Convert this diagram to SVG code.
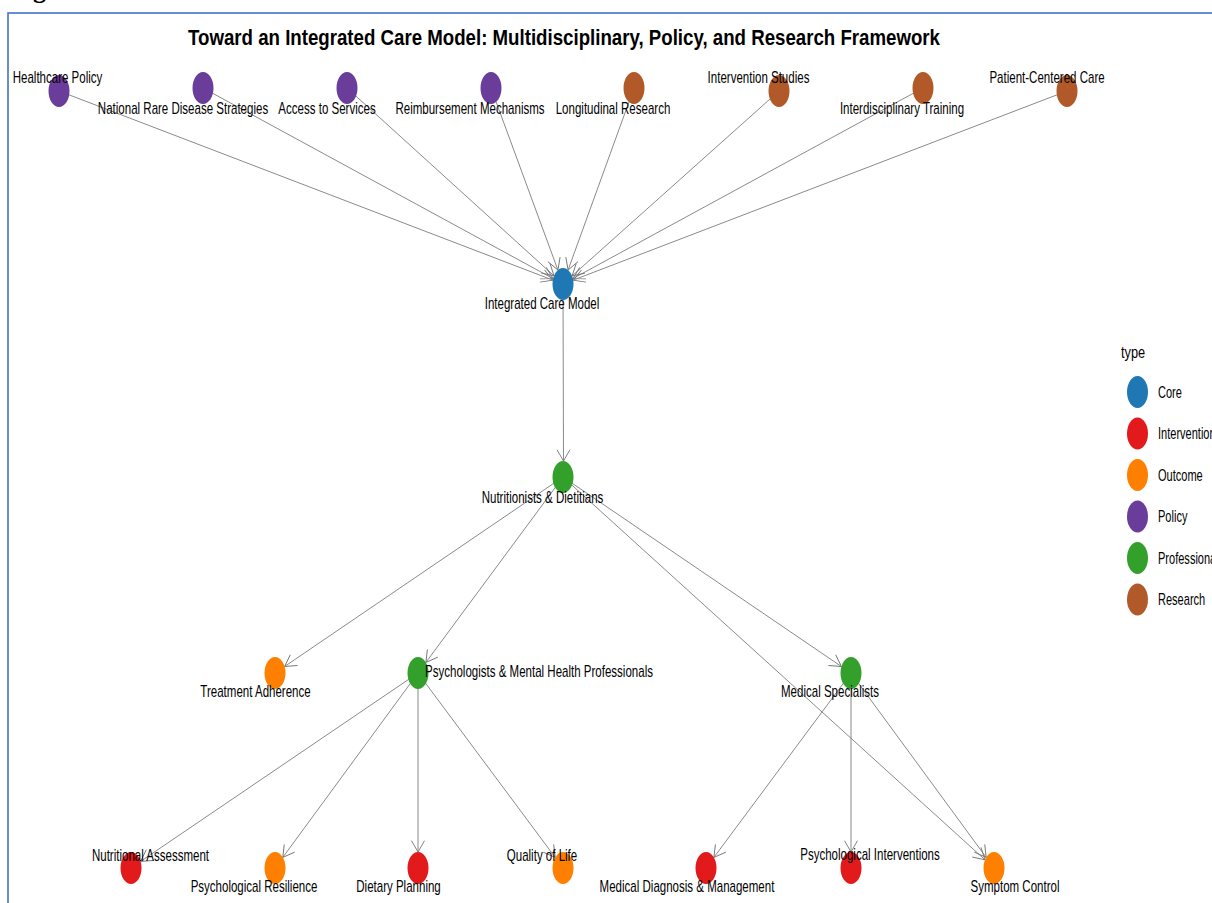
<svg xmlns="http://www.w3.org/2000/svg" width="1212" height="903" viewBox="0 0 1212 903">
<style>
.bg{fill:#ffffff}
.frame{fill:none;stroke:#4472C4;stroke-width:1.6}
.edge{stroke:#757575;stroke-width:0.85;fill:none;marker-end:url(#arr)}
.lbl{font-family:"Liberation Sans",Arial,sans-serif;font-size:16px;fill:#000;text-anchor:middle}
.leg{font-family:"Liberation Sans",Arial,sans-serif;font-size:16px;fill:#000}
.title{font-family:"Liberation Sans",Arial,sans-serif;font-size:22px;font-weight:bold;fill:#000;text-anchor:middle}
.core{fill:#1F78B4}.int{fill:#E31A1C}.out{fill:#FF7F00}.pol{fill:#6A3D9A}.pro{fill:#33A02C}.res{fill:#B15928}
</style>
<defs>
<marker id="arr" viewBox="0 -7 12 14" refX="11.3" refY="0" markerWidth="12" markerHeight="14" markerUnits="userSpaceOnUse" orient="auto" overflow="visible">
<path d="M0,-6.5 L11.3,0 L0,6.5" fill="none" stroke="#757575" stroke-width="0.9"/>
</marker>
</defs>
<rect class="bg" x="0" y="0" width="1212" height="903"/>
<text x="33" y="-2.5" font-family="'Liberation Serif',serif" font-size="26" font-weight="bold" fill="#000">g</text>
<rect class="frame" x="8" y="13" width="1230" height="910"/>
<text class="title" x="564" y="44.5" textLength="752" lengthAdjust="spacingAndGlyphs">Toward an Integrated Care Model: Multidisciplinary, Policy, and Research Framework</text>
<g id="connectors">
<line class="edge" x1="59" y1="91" x2="552.8" y2="280.1"/>
<line class="edge" x1="203" y1="88" x2="553.1" y2="278.6"/>
<line class="edge" x1="347" y1="88" x2="554.0" y2="275.8"/>
<line class="edge" x1="491" y1="88" x2="557.9" y2="270.0"/>
<line class="edge" x1="634" y1="88" x2="568.1" y2="270.0"/>
<line class="edge" x1="779" y1="91" x2="572.1" y2="275.9"/>
<line class="edge" x1="923" y1="88" x2="572.9" y2="278.6"/>
<line class="edge" x1="1067" y1="91" x2="573.2" y2="280.1"/>
<line class="edge" x1="563" y1="284" x2="563.5" y2="461"/>
<line class="edge" x1="563" y1="477" x2="284.6" y2="666.5"/>
<line class="edge" x1="563" y1="477" x2="425.9" y2="662.4"/>
<line class="edge" x1="563" y1="477" x2="841.4" y2="666.5"/>
<line class="edge" x1="563" y1="477" x2="985.0" y2="859.8"/>
<line class="edge" x1="418" y1="673" x2="140.6" y2="861.4"/>
<line class="edge" x1="418" y1="673" x2="282.8" y2="857.4"/>
<line class="edge" x1="418" y1="673" x2="418" y2="852"/>
<line class="edge" x1="418" y1="673" x2="555.2" y2="857.4"/>
<line class="edge" x1="851" y1="673" x2="713.9" y2="857.4"/>
<line class="edge" x1="851" y1="673" x2="851" y2="852"/>
<line class="edge" x1="851" y1="673" x2="986.2" y2="857.4"/>
</g>
<g id="n-healthcare-policy"><ellipse class="pol" cx="59" cy="91" rx="10.5" ry="16"/><text class="lbl" transform="translate(57.5,82.5) scale(0.72,1)">Healthcare Policy</text></g>
<g id="n-national-rare-disease-strategies"><ellipse class="pol" cx="203" cy="88" rx="10.5" ry="16"/><text class="lbl" transform="translate(183,113.5) scale(0.72,1)">National Rare Disease Strategies</text></g>
<g id="n-access-to-services"><ellipse class="pol" cx="347" cy="88" rx="10.5" ry="16"/><text class="lbl" transform="translate(327,113.5) scale(0.72,1)">Access to Services</text></g>
<g id="n-reimbursement-mechanisms"><ellipse class="pol" cx="491" cy="88" rx="10.5" ry="16"/><text class="lbl" transform="translate(470,113.5) scale(0.72,1)">Reimbursement Mechanisms</text></g>
<g id="n-longitudinal-research"><ellipse class="res" cx="634" cy="88" rx="10.5" ry="16"/><text class="lbl" transform="translate(613,113.5) scale(0.72,1)">Longitudinal Research</text></g>
<g id="n-intervention-studies"><ellipse class="res" cx="779" cy="91" rx="10.5" ry="16"/><text class="lbl" transform="translate(758.5,82.5) scale(0.72,1)">Intervention Studies</text></g>
<g id="n-interdisciplinary-training"><ellipse class="res" cx="923" cy="88" rx="10.5" ry="16"/><text class="lbl" transform="translate(902,113.5) scale(0.72,1)">Interdisciplinary Training</text></g>
<g id="n-patient-centered-care"><ellipse class="res" cx="1067" cy="91" rx="10.5" ry="16"/><text class="lbl" transform="translate(1047,82.5) scale(0.72,1)">Patient-Centered Care</text></g>
<g id="n-integrated-care-model"><ellipse class="core" cx="563" cy="284" rx="10.5" ry="16"/><text class="lbl" transform="translate(542,308.8) scale(0.72,1)">Integrated Care Model</text></g>
<g id="n-nutritionists-dietitians"><ellipse class="pro" cx="563" cy="477" rx="10.5" ry="16"/><text class="lbl" transform="translate(542.5,502.5) scale(0.72,1)">Nutritionists &amp; Dietitians</text></g>
<g id="n-treatment-adherence"><ellipse class="out" cx="275" cy="673" rx="10.5" ry="16"/><text class="lbl" transform="translate(255.5,696.5) scale(0.72,1)">Treatment Adherence</text></g>
<g id="n-psychologists"><ellipse class="pro" cx="418" cy="673" rx="10.5" ry="16"/><text class="lbl" transform="translate(539,677) scale(0.72,1)">Psychologists &amp; Mental Health Professionals</text></g>
<g id="n-medical-specialists"><ellipse class="pro" cx="851" cy="673" rx="10.5" ry="16"/><text class="lbl" transform="translate(830,697) scale(0.72,1)">Medical Specialists</text></g>
<g id="n-nutritional-assessment"><ellipse class="int" cx="131" cy="868" rx="10.5" ry="16"/><text class="lbl" transform="translate(150.5,860.5) scale(0.72,1)">Nutritional Assessment</text></g>
<g id="n-psychological-resilience"><ellipse class="out" cx="275" cy="868" rx="10.5" ry="16"/><text class="lbl" transform="translate(254,891.5) scale(0.72,1)">Psychological Resilience</text></g>
<g id="n-dietary-planning"><ellipse class="int" cx="418" cy="868" rx="10.5" ry="16"/><text class="lbl" transform="translate(398.5,891.5) scale(0.72,1)">Dietary Planning</text></g>
<g id="n-quality-of-life"><ellipse class="out" cx="563" cy="868" rx="10.5" ry="16"/><text class="lbl" transform="translate(542,860.5) scale(0.72,1)">Quality of Life</text></g>
<g id="n-medical-diagnosis-management"><ellipse class="int" cx="706" cy="868" rx="10.5" ry="16"/><text class="lbl" transform="translate(687,891.5) scale(0.72,1)">Medical Diagnosis &amp; Management</text></g>
<g id="n-psychological-interventions"><ellipse class="int" cx="851" cy="868" rx="10.5" ry="16"/><text class="lbl" transform="translate(870,860) scale(0.72,1)">Psychological Interventions</text></g>
<g id="n-symptom-control"><ellipse class="out" cx="994" cy="868" rx="10.5" ry="16"/><text class="lbl" transform="translate(1015,891.5) scale(0.72,1)">Symptom Control</text></g>
<g id="legend">
<text class="leg" font-size="19" transform="translate(1121,358) scale(0.8,1)">type</text>
<ellipse class="core" cx="1137.5" cy="392" rx="10.5" ry="16"/><text class="leg" transform="translate(1158,397.5) scale(0.69,1)">Core</text>
<ellipse class="int" cx="1137.5" cy="433.5" rx="10.5" ry="16"/><text class="leg" transform="translate(1158,439) scale(0.69,1)">Intervention</text>
<ellipse class="out" cx="1137.5" cy="475" rx="10.5" ry="16"/><text class="leg" transform="translate(1158,480.5) scale(0.69,1)">Outcome</text>
<ellipse class="pol" cx="1137.5" cy="516.5" rx="10.5" ry="16"/><text class="leg" transform="translate(1158,522) scale(0.69,1)">Policy</text>
<ellipse class="pro" cx="1137.5" cy="558" rx="10.5" ry="16"/><text class="leg" transform="translate(1158,563.5) scale(0.69,1)">Professional</text>
<ellipse class="res" cx="1137.5" cy="599.5" rx="10.5" ry="16"/><text class="leg" transform="translate(1158,605) scale(0.69,1)">Research</text>
</g>
</svg>
